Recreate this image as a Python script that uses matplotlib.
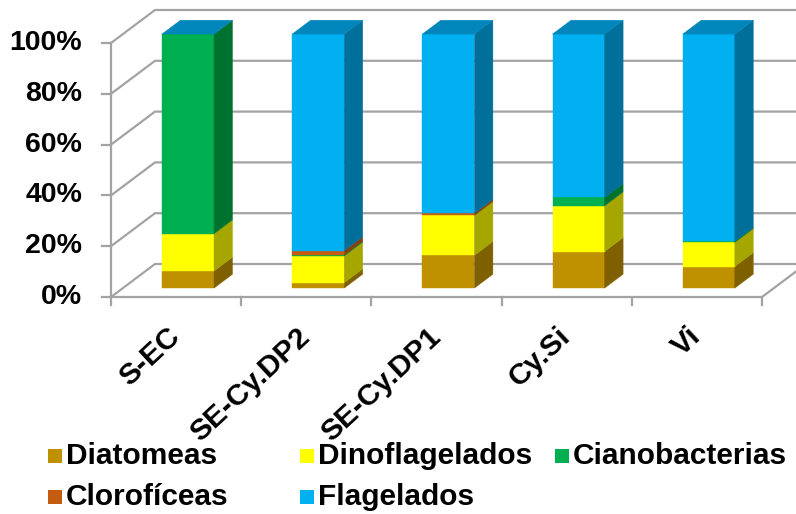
import matplotlib
matplotlib.use("Agg")
import matplotlib.pyplot as plt
from matplotlib.patches import Polygon, Rectangle

plt.rcParams['font.family'] = ['Liberation Sans', 'DejaVu Sans']
plt.rcParams['font.weight'] = 'bold'

# ── Data (percent of total abundance) ────────────────────────────────────────
sites = ["S-EC", "SE-Cy.DP2", "SE-Cy.DP1", "Cy.Si", "Vi"]
groups = ["Diatomeas", "Dinoflagelados", "Cianobacterias", "Clorofíceas", "Flagelados"]

diatomeas      = [6.7, 2.1, 12.9, 14.4, 8.5]
dinoflagelados = [14.7, 10.6, 15.7, 18.0, 9.5]
cianobacterias = [78.6, 0.4, 0.0, 3.3, 0.4]
cloroficeas    = [0.0, 1.6, 0.8, 0.0, 0.0]
flagelados     = [0.0, 85.3, 70.6, 64.3, 81.6]

yticks = [0, 20, 40, 60, 80, 100]
ytick_labels = ["0%", "20%", "40%", "60%", "80%", "100%"]

# front / side / top shades for each group
front_colors = ["#BF9000", "#FFFF00", "#00B050", "#C55A11", "#00B0F0"]
side_colors  = ["#7F6000", "#A6A600", "#00722F", "#8A3E0B", "#006F9A"]
top_color    = "#0086BA"
grid_color   = "#A3A3A3"

# ── Layout (pixels of the 796x514 canvas) ────────────────────────────────────
W, H = 796, 514
AX_LEFT_PX = 111       # front vertical axis
CAT_PX = 130.2         # width of one category slot
ZERO_PX = 297          # 0% on the front plane
PX_PER_PCT = 2.54
DEPTH_PX = (44, 33)    # full depth offset of the box (right, up)
BAR_FRONT = 0.27       # bar front face as fraction of the depth
BAR_DEPTH = 0.42
BAR_W = 0.40

n = len(sites)
dx_full = DEPTH_PX[0] / CAT_PX
dy_full = DEPTH_PX[1] / PX_PER_PCT

fig = plt.figure(figsize=(W / 100, H / 100), dpi=100)
ax = fig.add_axes([0, 0, 1, 1])
ax.set_xlim(-AX_LEFT_PX / CAT_PX - 0.5, (W - AX_LEFT_PX) / CAT_PX - 0.5)
ax.set_ylim(-(H - ZERO_PX) / PX_PER_PCT, ZERO_PX / PX_PER_PCT)
ax.axis("off")

x_left, x_right = -0.5, n - 0.5
lw = 1.6

# back wall + left wall gridlines
for v in yticks:
    ax.plot([x_left, x_left + dx_full, x_right + dx_full + 1],
            [v, v + dy_full, v + dy_full], color=grid_color, lw=lw,
            solid_capstyle="butt", zorder=1)
    ax.plot([x_left - 9 / CAT_PX, x_left], [v, v], color=grid_color, lw=lw, zorder=1)

# front vertical axis
ax.plot([x_left, x_left], [0, 100], color=grid_color, lw=lw, zorder=1)
# floor front edge, right edge, category ticks
ax.plot([x_left, x_right], [0, 0], color=grid_color, lw=lw, zorder=1)
ax.plot([x_right, x_right + dx_full], [0, dy_full], color=grid_color, lw=lw, zorder=1)
for k in range(n + 1):
    xt = x_left + k
    ax.plot([xt, xt], [0, -8 / PX_PER_PCT], color=grid_color, lw=lw, zorder=1)

# y tick labels
for v, lab in zip(yticks, ytick_labels):
    ax.text(x_left - 29 / CAT_PX, v, lab, ha="right", va="center",
            fontsize=20.5, fontweight="bold")

# ── 3D stacked bars ──────────────────────────────────────────────────────────
series = [diatomeas, dinoflagelados, cianobacterias, cloroficeas, flagelados]
ox = BAR_FRONT * dx_full
oy = BAR_FRONT * dy_full
ddx = BAR_DEPTH * dx_full
ddy = BAR_DEPTH * dy_full

for i in range(n):
    x0 = i + ox - BAR_W / 2
    x1 = x0 + BAR_W
    base = 0.0
    for vals, fc, sc in zip(series, front_colors, side_colors):
        v = vals[i]
        y0, y1 = base + oy, base + v + oy
        if v > 0:
            ax.add_patch(Polygon([(x0, y0), (x1, y0), (x1, y1), (x0, y1)],
                                 closed=True, facecolor=fc, edgecolor=fc,
                                 lw=0.3, zorder=3))
            ax.add_patch(Polygon([(x1, y0), (x1 + ddx, y0 + ddy),
                                  (x1 + ddx, y1 + ddy), (x1, y1)],
                                 closed=True, facecolor=sc, edgecolor=sc,
                                 lw=0.3, zorder=3))
        base += v
    # top face of the stack (last series colour)
    yt = base + oy
    ax.add_patch(Polygon([(x0, yt), (x1, yt), (x1 + ddx, yt + ddy),
                          (x0 + ddx, yt + ddy)], closed=True,
                         facecolor=top_color, edgecolor=top_color,
                         lw=0.3, zorder=3))

# category labels
for i, name in enumerate(sites):
    ax.text(i + 0.0, -14, name, rotation=43, rotation_mode="anchor",
            ha="right", va="center", fontsize=21.5, fontweight="bold")

# ── Legend ───────────────────────────────────────────────────────────────────
legend_cols = [48, 300, 555]
legend_rows = [456, 497]
for k, (name, fc) in enumerate(zip(groups, front_colors)):
    cx = legend_cols[k % 3]
    cy = legend_rows[k // 3]
    fig.patches.append(Rectangle(((cx) / W, 1 - (cy + 7) / H), 14 / W, 14 / H,
                                 transform=fig.transFigure, facecolor=fc,
                                 edgecolor="none"))
    fig.text((cx + 18) / W, 1 - cy / H, name, ha="left", va="center",
             fontsize=21.5, fontweight="bold")

fig.savefig("out.png", dpi=100)
